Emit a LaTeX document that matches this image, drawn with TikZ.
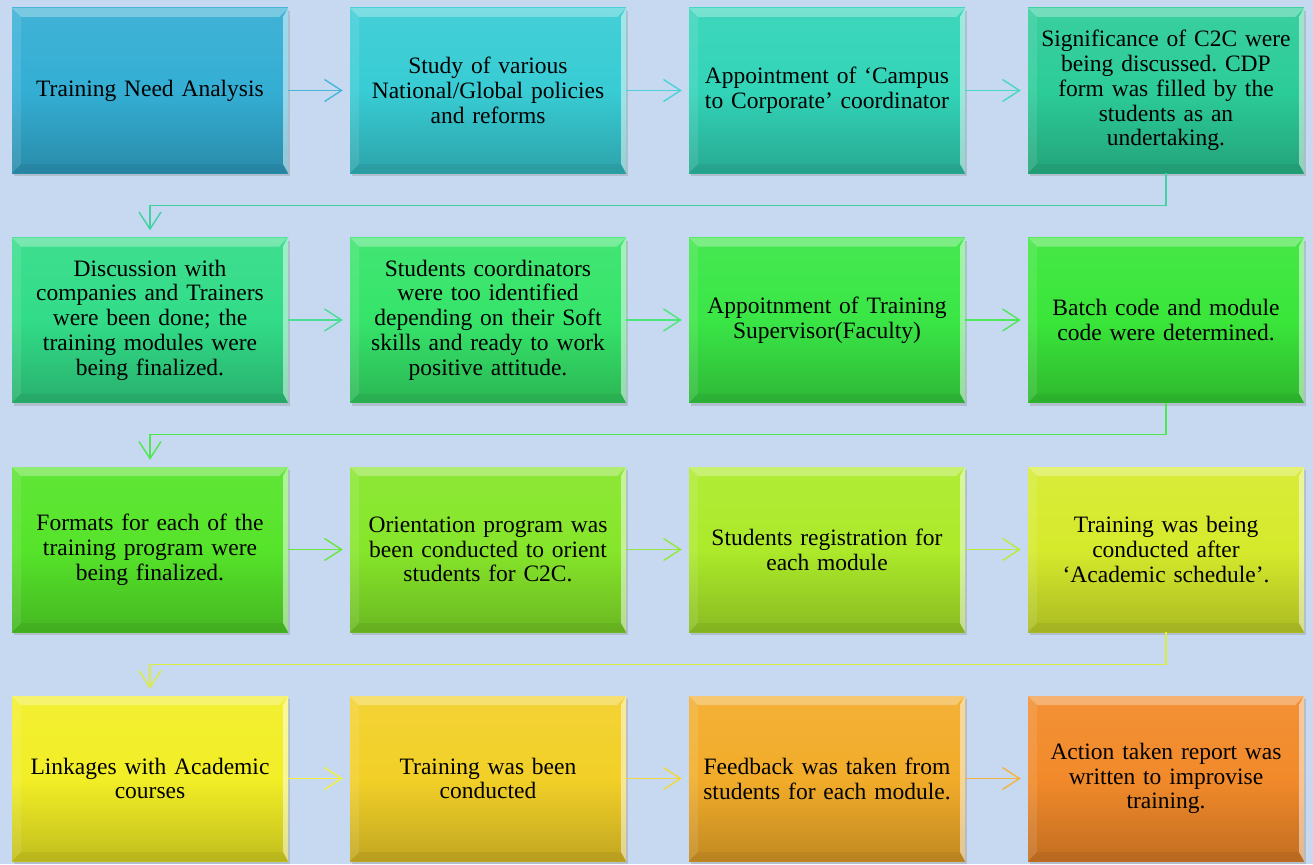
\documentclass[tikz,border=0pt]{standalone}
\usepackage{fontspec}
\setmainfont{Liberation Serif}
\usetikzlibrary{arrows.meta,shadows}

\definecolor{bgblue}{HTML}{C6D9F0}
\definecolor{cA}{HTML}{34AED4}
\definecolor{cB}{HTML}{38CCD4}
\definecolor{cC}{HTML}{32D4B8}
\definecolor{cD}{HTML}{2CCC98}
\definecolor{cE}{HTML}{32DC88}
\definecolor{cF}{HTML}{36E46A}
\definecolor{cG}{HTML}{3AE646}
\definecolor{cH}{HTML}{3AE63A}
\definecolor{cI}{HTML}{56E42A}
\definecolor{cJ}{HTML}{86E62A}
\definecolor{cK}{HTML}{ACEA2A}
\definecolor{cL}{HTML}{D6EA2C}
\definecolor{cM}{HTML}{F2EE26}
\definecolor{cN}{HTML}{F2D028}
\definecolor{cO}{HTML}{F2AC2A}
\definecolor{cP}{HTML}{F28A2A}

\tikzset{
    stage/.style={rectangle, minimum width=276pt, minimum height=165pt,
        inner sep=0pt, text width=266pt, align=center,
        font=\fontsize{23.5pt}{24.8pt}\selectfont,
        top color=#1!94!white, bottom color=#1!80!black, middle color=#1,
        drop shadow={shadow xshift=2pt, shadow yshift=-3pt, opacity=0.3},
        path picture={
            \fill[white, opacity=0.3]
                (path picture bounding box.north west) --
                (path picture bounding box.north east) --
                ([shift={(-9pt,-9pt)}]path picture bounding box.north east) --
                ([shift={(9pt,-9pt)}]path picture bounding box.north west) -- cycle;
            \fill[white, opacity=0.1]
                (path picture bounding box.north west) --
                ([shift={(9pt,-9pt)}]path picture bounding box.north west) --
                ([shift={(9pt,9pt)}]path picture bounding box.south west) --
                (path picture bounding box.south west) -- cycle;
            \fill[white, opacity=0.5]
                (path picture bounding box.north east) --
                ([shift={(-5pt,-9pt)}]path picture bounding box.north east) --
                ([shift={(-5pt,9pt)}]path picture bounding box.south east) --
                (path picture bounding box.south east) -- cycle;
            \fill[black, opacity=0.05]
                (path picture bounding box.south west) --
                ([shift={(9pt,9pt)}]path picture bounding box.south west) --
                ([shift={(-5pt,9pt)}]path picture bounding box.south east) --
                (path picture bounding box.south east) -- cycle;
        }},
    arr/.style={draw=#1!90!white, line width=1.4pt,
        -{Straight Barb[length=17pt, width=22pt]}, shorten >=7pt}
}

\begin{document}
\frenchspacing
\begin{tikzpicture}
        [x=1pt, y=-1pt]
        \fill[bgblue] (0,0) rectangle (1313,864);

        % row 1
        \node[stage=cA] (analysis) at (150,90.5)
            {Training Need Analysis};
        \node[stage=cB] (policies) at (488,90.5)
            {Study of various\\National/Global policies\\and reforms};
        \node[stage=cC] (coordinator) at (827,90.5)
            {Appointment of ‘Campus\\to Corporate’ coordinator};
        \node[stage=cD] (cdp) at (1166,90.5)
            {Significance of C2C were\\being discussed. CDP\\form was filled by the\\students as an\\undertaking.};

        % row 2
        \node[stage=cE] (companies) at (150,320)
            {Discussion with\\companies and Trainers\\were been done; the\\training modules were\\being finalized.};
        \node[stage=cF] (studcoord) at (488,320)
            {Students coordinators\\were too identified\\depending on their Soft\\skills and ready to work\\positive attitude.};
        \node[stage=cG] (supervisor) at (827,320)
            {Appoitnment of Training\\Supervisor(Faculty)};
        \node[stage=cH] (batch) at (1166,320)
            {Batch code and module\\code were determined.};

        % row 3
        \node[stage=cI] (formats) at (150,549.5)
            {Formats for each of the\\training program were\\being finalized.};
        \node[stage=cJ] (orientation) at (488,549.5)
            {Orientation program was\\been conducted to orient\\students for C2C.};
        \node[stage=cK] (registration) at (827,549.5)
            {Students registration for\\each module};
        \node[stage=cL] (schedule) at (1166,549.5)
            {Training was being\\conducted after\\‘Academic schedule’.};

        % row 4
        \node[stage=cM] (linkages) at (150,778.5)
            {Linkages with Academic\\courses};
        \node[stage=cN] (conducted) at (488,778.5)
            {Training was been\\conducted};
        \node[stage=cO] (feedback) at (827,778.5)
            {Feedback was taken from\\students for each module.};
        \node[stage=cP] (report) at (1166,778.5)
            {Action taken report was\\written to improvise\\training.};

        % arrows
        \draw[arr=cA] (analysis.east) -- (policies.west);
        \draw[arr=cB] (policies.east) -- (coordinator.west);
        \draw[arr=cC] (coordinator.east) -- (cdp.west);
        \draw[arr=cD] (cdp.south) -- ++(0,32) -| (companies.north);
        \draw[arr=cE] (companies.east) -- (studcoord.west);
        \draw[arr=cF] (studcoord.east) -- (supervisor.west);
        \draw[arr=cG] (supervisor.east) -- (batch.west);
        \draw[arr=cH] (batch.south) -- ++(0,32) -| (formats.north);
        \draw[arr=cI] (formats.east) -- (orientation.west);
        \draw[arr=cJ] (orientation.east) -- (registration.west);
        \draw[arr=cK] (registration.east) -- (schedule.west);
        \draw[arr=cL] (schedule.south) -- ++(0,32) -| (linkages.north);
        \draw[arr=cM] (linkages.east) -- (conducted.west);
        \draw[arr=cN] (conducted.east) -- (feedback.west);
        \draw[arr=cO] (feedback.east) -- (report.west);
\end{tikzpicture}
\end{document}
